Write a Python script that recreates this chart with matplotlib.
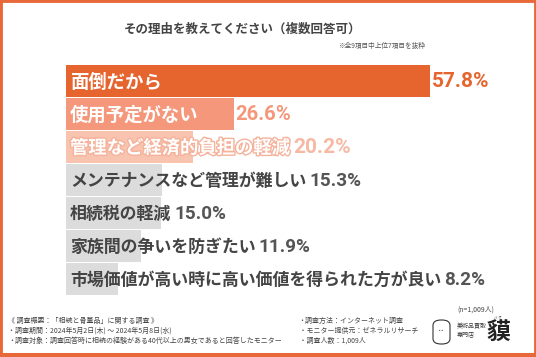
import matplotlib
matplotlib.use("Agg")
import matplotlib.pyplot as plt
from matplotlib.patches import Rectangle, FancyBboxPatch
import matplotlib.patheffects as pe

plt.rcParams['font.family'] = ['Noto Sans CJK JP', 'DejaVu Sans']

categories = ["面倒だから", "使用予定がない", "管理など経済的負担の軽減",
              "メンテナンスなど管理が難しい", "相続税の軽減", "家族間の争いを防ぎたい",
              "市場価値が高い時に高い価値を得られた方が良い"]
values = [57.8, 26.6, 20.2, 15.3, 15.0, 11.9, 8.2]
bar_colors = ["#E6652F", "#F4977A", "#F8C3AF", "#DCDCDC", "#DCDCDC", "#DCDCDC", "#DCDCDC"]
label_colors = ["white", "white", "white", "#444444", "#444444", "#444444", "#444444"]
pct_colors = ["#E6652F", "#F4977A", "#F6B9A3", "#555555", "#555555", "#555555", "#555555"]
label_sizes = [13.2, 13.2, 13.2, 12.2, 12.2, 12.2, 12.2]
pct_sizes = [15.0, 14.6, 15.0, 13.6, 13.6, 13.6, 13.6]

title = "その理由を教えてください（複数回答可）"
subtitle = "※全9項目中上位7項目を抜粋"
n_note = "(n=1,009人)"
foot_left = ["《 調査概要：「相続と骨董品」に関する調査 》",
             "・調査期間：2024年5月2日(木) ～ 2024年5月8日(水)",
             "・調査対象：調査回答時に相続の経験がある40代以上の男女であると回答したモニター"]
foot_right = ["・調査方法：インターネット調査",
              " ・モニター提供元：ゼネラルリサーチ",
              " ・調査人数：1,009人"]

W, H = 536, 357
fig = plt.figure(figsize=(W / 100, H / 100), dpi=100)
fig.patch.set_facecolor("white")

# border
orange = "#E8683A"
fig.add_artist(Rectangle((0, 0), 1, 1, transform=fig.transFigure, fill=False,
                         edgecolor=orange, linewidth=3.5, zorder=10))
fig.add_artist(Rectangle((0, 0), 1, 4 / H, transform=fig.transFigure,
                         facecolor=orange, edgecolor="none", zorder=10))

# axes: x=0 at 66px, 6.3 px per %, rows 33px pitch starting at 64.5px
x0 = 66
xmax = 70
ax_w = xmax * 6.3
top = 64.5
ax_h = 33 * 7
ax = fig.add_axes([x0 / W, 1 - (top + ax_h) / H, ax_w / W, ax_h / H])
ax.set_xlim(0, xmax)
ax.set_ylim(len(values) - 0.5, -0.5)
ax.axis("off")

ys = list(range(len(values)))
ax.barh(ys, values, height=0.94, color=bar_colors, edgecolor="none")

fig.canvas.draw()
renderer = fig.canvas.get_renderer()
inv = ax.transData.inverted()
px = 1 / 6.3  # data units per pixel

for i, (cat, v) in enumerate(zip(categories, values)):
    kw = {}
    if i == 2:
        kw["path_effects"] = [pe.withStroke(linewidth=2.0, foreground="#F4B29B")]
    t = ax.text(4 * px, i + 0.03, cat, ha="left", va="center", fontsize=label_sizes[i],
                fontweight="bold", color=label_colors[i], **kw)
    bb = t.get_window_extent(renderer)
    lab_end = inv.transform((bb.x1, 0))[0]
    if lab_end > v:
        xp = lab_end + 3 * px
    else:
        xp = v + 2 * px
    ax.text(xp, i + 0.02, f"{v:.1f}%", ha="left", va="center", fontsize=pct_sizes[i],
            fontweight="bold", family=["Roboto", "DejaVu Sans"], color=pct_colors[i])

# titles
fig.text(243 / W, 1 - 33 / H, title, ha="center", va="baseline", fontsize=9,
         fontweight="bold", color="#444444")
fig.text(425 / W, 1 - 48 / H, subtitle, ha="right", va="baseline", fontsize=4.8,
         color="#555555")
fig.text(494 / W, 1 - 310 / H, n_note, ha="right", va="center", fontsize=5,
         color="#444444")

for k, s in enumerate(foot_left):
    fig.text(8 / W, 1 - (321 + 10 * k) / H, s, ha="left", va="center",
             fontsize=5.0, color="#444444")
for k, s in enumerate(foot_right):
    fig.text(298 / W, 1 - (321 + 10 * k) / H, s, ha="left", va="center",
             fontsize=5.0, color="#444444")

# logo
fig.add_artist(FancyBboxPatch((433 / W, 1 - 344 / H), 17 / W, 24 / H,
                              boxstyle="round,pad=0,rounding_size=0.015",
                              transform=fig.transFigure, fill=False,
                              edgecolor="#333333", linewidth=0.8))
fig.text(441 / W, 1 - 331 / H, "･･", ha="center", va="center", fontsize=5, color="#333333")
fig.text(457 / W, 1 - 330 / H, "美術品買取\n専門店", ha="left", va="center",
         fontsize=4.3, color="#333333", linespacing=1.5)
fig.text(498 / W, 1 - 333 / H, "貘", ha="center", va="center", fontsize=17,
         fontweight="bold", color="#222222")
fig.text(498 / W, 1 - 318 / H, "バ ク", ha="center", va="center", fontsize=2.5,
         color="#333333")

fig.savefig("out.png", dpi=100, facecolor="white")
